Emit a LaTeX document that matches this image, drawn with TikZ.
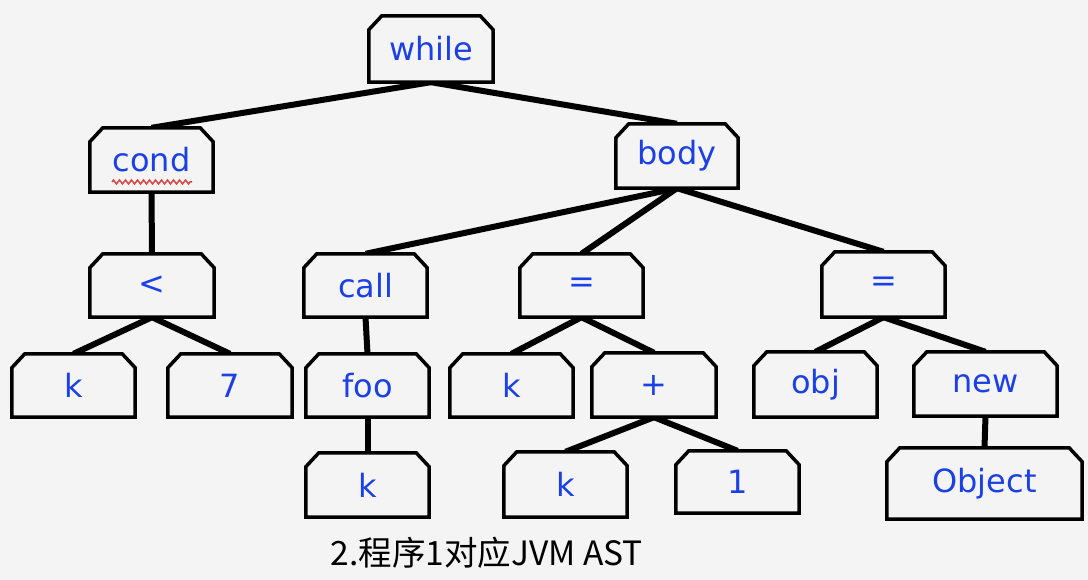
\documentclass[tikz,border=0pt]{standalone}
\usepackage{fontspec}
\setmainfont{DejaVu Sans}
\newfontfamily\cjkfont{Noto Sans CJK SC}
\usetikzlibrary{decorations.pathmorphing}
\pgfdeclarelayer{bglayer}
\pgfdeclarelayer{edgelayer}
\pgfdeclarelayer{boxlayer}
\pgfsetlayers{bglayer,edgelayer,boxlayer,main}
\definecolor{bgc}{HTML}{F4F4F4}
\definecolor{txtblue}{HTML}{1A40E6}
\definecolor{spellred}{HTML}{E04848}
\tikzset{
  astbox/.style={inner sep=0pt, text=txtblue, font=\fontsize{32}{36}\selectfont},
  treeedge/.style={line width=6pt, black},
}
\newcommand{\chbox}[1]{%
  \begin{pgfonlayer}{boxlayer}
  \draw[line width=3.5pt, fill=bgc, line join=miter]
    (#1.south west) -- ([yshift=-14pt]#1.north west) -- ([xshift=13pt]#1.north west)
    -- ([xshift=-13pt]#1.north east) -- ([yshift=-14pt]#1.north east) -- (#1.south east) -- cycle;
  \end{pgfonlayer}}
\begin{document}
\begin{tikzpicture}[x=1pt,y=-1pt]
\begin{pgfonlayer}{bglayer}
\fill[bgc] (0,0) rectangle (1088,580);
\end{pgfonlayer}
\useasboundingbox (0,0) rectangle (1088,580);
% nodes
\node[astbox, minimum width=124pt, minimum height=66pt] (while) at (431,49) {while};
\node[astbox, minimum width=123pt, minimum height=64pt] (cond) at (151.5,160) {cond};
\node[astbox, minimum width=122pt, minimum height=64pt] (body) at (677,156) {body};
\node[astbox, minimum width=124pt, minimum height=63pt] (lt) at (152,285.5) {<};
\node[astbox, minimum width=123pt, minimum height=63pt] (ka) at (73.5,385.5) {k};
\node[astbox, minimum width=124pt, minimum height=63pt] (seven) at (230,385.5) {7};
\node[astbox, minimum width=123pt, minimum height=63pt] (call) at (365.5,285.5) {call};
\node[astbox, minimum width=123pt, minimum height=63pt] (foo) at (367.5,385.5) {foo};
\node[astbox, minimum width=123pt, minimum height=64pt] (kb) at (367.5,485) {k};
\node[astbox, minimum width=123pt, minimum height=63pt] (eqa) at (581.5,285.5) {=};
\node[astbox, minimum width=123pt, minimum height=63pt] (kc) at (511.5,385.5) {k};
\node[astbox, minimum width=124pt, minimum height=64pt] (plus) at (654,385) {+};
\node[astbox, minimum width=123pt, minimum height=65pt] (kd) at (565.5,484.5) {k};
\node[astbox, minimum width=123pt, minimum height=62pt] (one) at (737.5,482) {1};
\node[astbox, minimum width=123pt, minimum height=65pt] (eqb) at (883.5,284.5) {=};
\node[astbox, minimum width=123pt, minimum height=65pt] (obj) at (815.5,384.5) {obj};
\node[astbox, minimum width=143pt, minimum height=64pt] (new) at (985.5,384) {new};
\node[astbox, minimum width=195pt, minimum height=71pt] (object) at (984.5,483.5) {Object};
% outlines
\foreach \n in {while,cond,body,lt,ka,seven,call,foo,kb,eqa,kc,plus,kd,one,eqb,obj,new,object}{\chbox{\n}}
% edges
\begin{pgfonlayer}{edgelayer}
\draw[treeedge] (while.south) -- (cond.north);
\draw[treeedge] (while.south) -- (body.north);
\draw[treeedge] (cond.south) -- (lt.north);
\draw[treeedge] (lt.south) -- (ka.north);
\draw[treeedge] (lt.south) -- (seven.north);
\draw[treeedge] (body.south) -- (call.north);
\draw[treeedge] (body.south) -- (eqa.north);
\draw[treeedge] (body.south) -- (eqb.north);
\draw[treeedge] (call.south) -- (foo.north);
\draw[treeedge] (foo.south) -- (kb.north);
\draw[treeedge] (eqa.south) -- (kc.north);
\draw[treeedge] (eqa.south) -- (plus.north);
\draw[treeedge] (plus.south) -- (kd.north);
\draw[treeedge] (plus.south) -- (one.north);
\draw[treeedge] (eqb.south) -- (obj.north);
\draw[treeedge] (eqb.south) -- (new.north);
\draw[treeedge] (new.south) -- (object.north);
\end{pgfonlayer}
% spell-check underline
\coordinate (wl) at (112,182);
\coordinate (wr) at (192,182);
\draw[spellred, line width=1.5pt, decorate, decoration={zigzag, amplitude=2pt, segment length=6pt}] (wl) -- (wr);
% caption
\node[font=\cjkfont\fontsize{33.5}{38}\selectfont, text=black, inner sep=0pt] (caption) at (487,553) {2.程序1对应JVM AST};
\end{tikzpicture}
\end{document}
